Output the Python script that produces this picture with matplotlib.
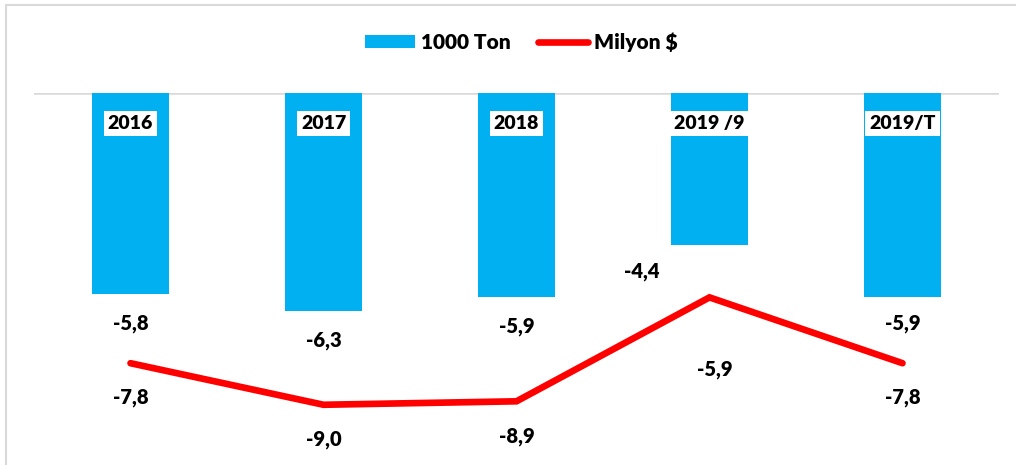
import numpy as np
import matplotlib.pyplot as plt
from matplotlib.lines import Line2D
from matplotlib.patches import Patch

# ==========================================
# DATA
# ==========================================
categories = ['2016', '2017', '2018', '2019 /9', '2019/T']
ton_values = [-5.8, -6.3, -5.9, -4.4, -5.9]      # 1000 Ton (bars)
usd_values = [-7.8, -9.0, -8.9, -5.9, -7.8]      # Milyon $ (line)

# label offsets in points (dx, dy) - purely cosmetic
bar_label_offsets = [(0, -21), (0, -21), (0, -21), (-49, -19), (0, -19)]
line_label_offsets = [(0, -25), (0, -25), (0, -25), (4, -52), (0, -25)]

BLUE = '#00B0F0'
RED = '#FF0000'
W = 800  # Lato "bold" as matplotlib resolves it

plt.rcParams['font.family'] = ['Lato', 'DejaVu Sans']

# ==========================================
# FIGURE
# ==========================================
fig = plt.figure(figsize=(10.16, 4.65), dpi=100)
ax = fig.add_axes([34 / 1016, 10 / 465, 965 / 1016, 362 / 465])

x = np.arange(len(categories))
ax.bar(x, ton_values, width=0.4, color=BLUE, zorder=2)
ax.plot(x, usd_values, color=RED, lw=4.8, solid_capstyle='round',
        solid_joinstyle='miter', zorder=3)

ax.axhline(0, color='#d9d9d9', lw=1.8, zorder=1)
ax.set_xlim(-0.5, len(categories) - 0.5)
ax.set_ylim(-10.45, 0)
ax.axis('off')

# category names inside the bars
for i, name in enumerate(categories):
    ax.annotate(name, (i, 0), xytext=(0, -22), textcoords='offset points',
                ha='center', va='center', fontsize=14, fontweight=W,
                bbox=dict(boxstyle='square,pad=0.22', fc='white', ec='none'),
                zorder=4)

def fmt(v):
    return f'{v:.1f}'.replace('.', ',')

for i, v in enumerate(ton_values):
    ax.annotate(fmt(v), (i, v), xytext=bar_label_offsets[i],
                textcoords='offset points', ha='center', va='center',
                fontsize=14.5, fontweight=W)

for i, v in enumerate(usd_values):
    ax.annotate(fmt(v), (i, v), xytext=line_label_offsets[i],
                textcoords='offset points', ha='center', va='center',
                fontsize=14.5, fontweight=W)

# legend
handles = [Patch(facecolor=BLUE, edgecolor='none', label='1000 Ton'),
           Line2D([0], [0], color=RED, lw=4.8, solid_capstyle='round',
                  label='Milyon $')]
fig.legend(handles=handles, loc='center', bbox_to_anchor=(521 / 1016, 1 - 42 / 465),
           ncol=2, frameon=False, handlelength=2.4,
           handleheight=0.55, handletextpad=0.3, columnspacing=1.3,
           prop={'weight': W, 'size': 15})

# outer chart border (top and left visible)
fig.add_artist(Line2D([6 / 1016, 6 / 1016], [0, 1 - 5 / 465],
                      transform=fig.transFigure, color='#d9d9d9', lw=1.5))
fig.add_artist(Line2D([6 / 1016, 1], [1 - 5 / 465, 1 - 5 / 465],
                      transform=fig.transFigure, color='#d9d9d9', lw=1.5))

fig.savefig('out.png', dpi=100)
